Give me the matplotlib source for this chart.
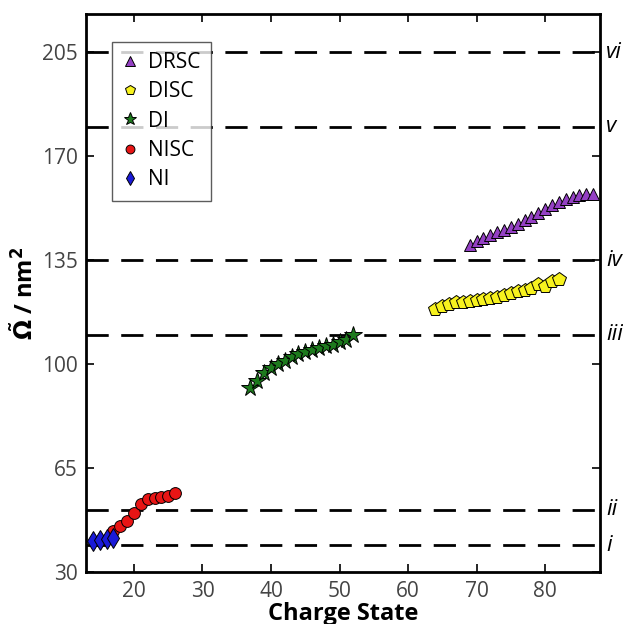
import matplotlib.pyplot as plt
import numpy as np

plt.rcParams['font.family'] = ['Open Sans', 'DejaVu Sans']
plt.rcParams['mathtext.fontset'] = 'dejavusans'

# collision cross section per charge state, one array pair per family
ni_z = np.array([14, 15, 16, 17])
ni_omega = np.array([40.5, 41.0, 41.3, 41.6])

nisc_z = np.array([17, 18, 19, 20, 21, 22, 23, 24, 25, 26])
nisc_omega = np.array([43.9, 45.6, 47.3, 49.8, 53.0, 54.6, 54.9, 55.2, 55.8, 56.8])

di_z = np.arange(37, 53)
di_omega = np.array([92.1, 94.2, 97.0, 98.7, 100.0, 101.2, 102.4, 103.3,
                     104.1, 104.9, 105.6, 106.0, 106.6, 107.4, 108.2, 109.9])

disc_z = np.arange(64, 83)
disc_omega = np.array([118.6, 119.5, 120.2, 120.8, 121.1, 121.4, 121.7, 121.9,
                       122.3, 122.8, 123.4, 124.0, 124.5, 125.1, 125.6, 127.1,
                       126.4, 127.9, 128.8])

drsc_z = np.arange(69, 88)
drsc_omega = np.array([140.2, 141.6, 142.5, 143.4, 144.4, 145.3, 146.2, 147.2,
                       148.4, 149.5, 150.9, 152.3, 153.5, 154.6, 155.7, 156.2,
                       156.9, 157.3, 157.4])

# reference levels drawn as dashed lines
level_values = [39, 51, 110, 135, 180, 205]
level_names = ['i', 'ii', 'iii', 'iv', 'v', 'vi']

fig = plt.figure(figsize=(6.23, 6.24), dpi=100)
ax = fig.add_axes([0.138, 0.083, 0.825, 0.895])

for val in level_values:
    ax.axhline(val, color='black', linewidth=2, linestyle=(0, (8, 4.5)), zorder=1)

ax.plot(drsc_z, drsc_omega, '^', color='#9440c4', mec='black', mew=0.7, ms=9, label='DRSC', zorder=3)
ax.plot(disc_z, disc_omega, 'p', color='#f7f21e', mec='black', mew=0.7, ms=10, label='DISC', zorder=3)
ax.plot(di_z, di_omega, '*', color='#1d7a1d', mec='black', mew=0.7, ms=13, label='DI', zorder=3)
ax.plot(nisc_z, nisc_omega, 'o', color='#e81515', mec='black', mew=0.7, ms=8.5, label='NISC', zorder=3)
ax.plot(ni_z, ni_omega, 'd', color='#1a1ad8', mec='black', mew=0.7, ms=10, label='NI', zorder=3)

for val, name in zip(level_values, level_names):
    ax.text(1.012, val, name, transform=ax.get_yaxis_transform(),
            fontsize=16, style='italic', va='center', ha='left')

ax.set_xlim(13, 88)
ax.set_ylim(30, 218)
ax.set_xticks([20, 30, 40, 50, 60, 70, 80])
ax.set_yticks([30, 65, 100, 135, 170, 205])

ax.tick_params(direction='in', top=True, right=True, length=6, width=1.2,
               labelsize=15, labelcolor='#444444', pad=6)
for s in ax.spines.values():
    s.set_linewidth(2)

ax.set_xlabel('Charge State', fontsize=17, fontweight='bold', labelpad=0)
ax.set_ylabel(r'$\mathbf{\tilde{\Omega}}$ / nm$^\mathbf{2}$', fontsize=17,
              fontweight='bold', labelpad=2)

leg = ax.legend(loc='upper left', bbox_to_anchor=(0.05, 0.95), numpoints=1,
                fontsize=15, frameon=True, fancybox=False, handlelength=0.8,
                handletextpad=0.45, borderpad=0.5, labelspacing=0.4,
                borderaxespad=0, markerscale=0.75)
leg.get_frame().set_edgecolor('#333333')
leg.get_frame().set_linewidth(1)

plt.savefig('out.png', dpi=100)
